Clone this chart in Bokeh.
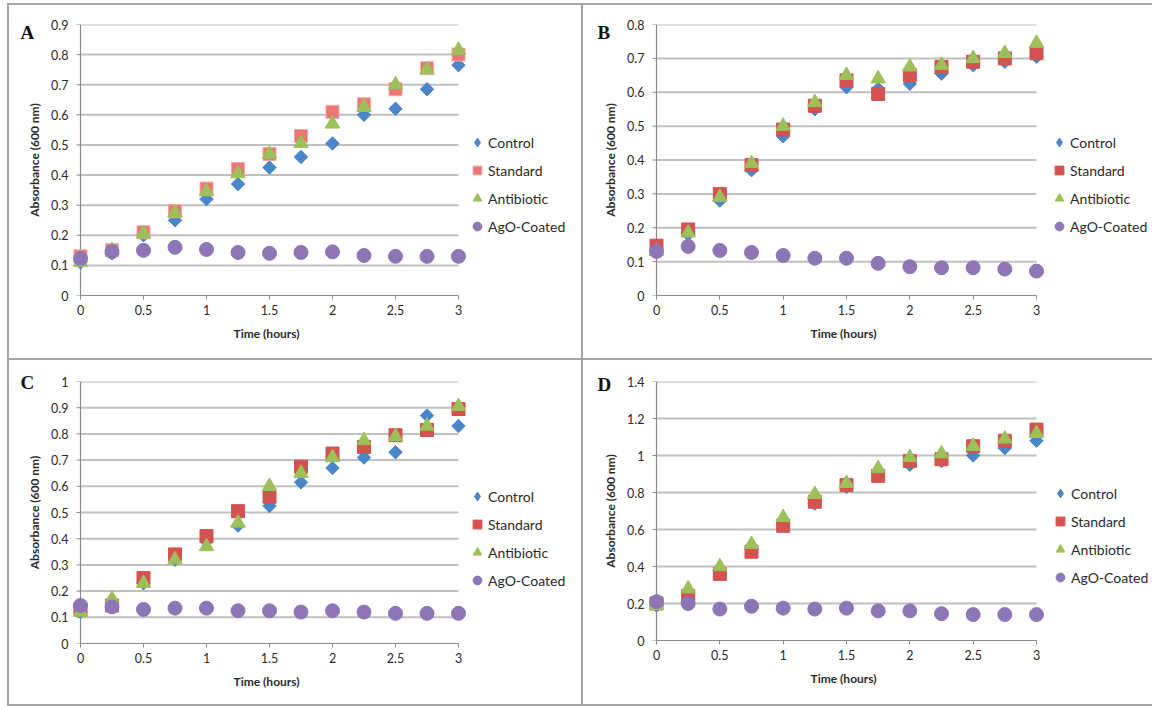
import math

from bokeh.plotting import figure
from bokeh.layouts import column, row
from bokeh.models import Range1d, FixedTicker, Legend, LegendItem, Title
from bokeh.embed import file_html
from bokeh.resources import INLINE

# ---- data -------------------------------------------------------------
time_h = [0, 0.25, 0.5, 0.75, 1.0, 1.25, 1.5, 1.75, 2.0, 2.25, 2.5, 2.75, 3.0]
series_names = ["Control", "Standard", "Antibiotic", "AgO-Coated"]

a_control = [0.11, 0.14, 0.20, 0.25, 0.32, 0.37, 0.425, 0.46, 0.505, 0.60, 0.62, 0.685, 0.765]
a_standard = [0.13, 0.15, 0.21, 0.28, 0.355, 0.42, 0.47, 0.53, 0.61, 0.635, 0.685, 0.755, 0.80]
a_antibiotic = [0.11, 0.15, 0.205, 0.275, 0.345, 0.405, 0.47, 0.505, 0.57, 0.625, 0.70, 0.75, 0.815]
a_ago = [0.123, 0.146, 0.15, 0.16, 0.153, 0.143, 0.14, 0.143, 0.145, 0.133, 0.13, 0.13, 0.13]

b_control = [0.13, 0.18, 0.28, 0.37, 0.47, 0.55, 0.615, 0.61, 0.625, 0.655, 0.68, 0.69, 0.705]
b_standard = [0.147, 0.195, 0.30, 0.385, 0.49, 0.56, 0.635, 0.595, 0.65, 0.675, 0.69, 0.70, 0.715]
b_antibiotic = [0.13, 0.185, 0.29, 0.39, 0.50, 0.57, 0.65, 0.64, 0.675, 0.68, 0.70, 0.715, 0.745]
b_ago = [0.13, 0.145, 0.133, 0.127, 0.118, 0.11, 0.11, 0.095, 0.085, 0.082, 0.082, 0.078, 0.072]

c_control = [0.12, 0.16, 0.23, 0.32, 0.39, 0.45, 0.525, 0.615, 0.67, 0.71, 0.73, 0.87, 0.83]
c_standard = [0.13, 0.145, 0.25, 0.34, 0.41, 0.505, 0.56, 0.675, 0.725, 0.75, 0.795, 0.815, 0.895]
c_antibiotic = [0.12, 0.17, 0.23, 0.32, 0.37, 0.46, 0.60, 0.65, 0.71, 0.775, 0.79, 0.83, 0.905]
c_ago = [0.145, 0.14, 0.13, 0.135, 0.135, 0.125, 0.125, 0.12, 0.125, 0.12, 0.115, 0.115, 0.115]

d_control = [0.19, 0.22, 0.36, 0.49, 0.63, 0.74, 0.83, 0.90, 0.95, 0.97, 1.00, 1.04, 1.08]
d_standard = [0.20, 0.24, 0.36, 0.48, 0.62, 0.75, 0.84, 0.89, 0.97, 0.98, 1.05, 1.08, 1.14]
d_antibiotic = [0.19, 0.28, 0.40, 0.52, 0.665, 0.79, 0.85, 0.93, 0.99, 1.01, 1.05, 1.09, 1.12]
d_ago = [0.21, 0.20, 0.17, 0.185, 0.175, 0.17, 0.175, 0.16, 0.16, 0.145, 0.14, 0.14, 0.14]

x_ticks = [0, 0.5, 1.0, 1.5, 2.0, 2.5, 3.0]
a_y_ticks = [0, 0.1, 0.2, 0.3, 0.4, 0.5, 0.6, 0.7, 0.8, 0.9]
b_y_ticks = [0, 0.1, 0.2, 0.3, 0.4, 0.5, 0.6, 0.7, 0.8]
c_y_ticks = [0, 0.1, 0.2, 0.3, 0.4, 0.5, 0.6, 0.7, 0.8, 0.9, 1.0]
d_y_ticks = [0, 0.2, 0.4, 0.6, 0.8, 1.0, 1.2, 1.4]

# ---- styling ----------------------------------------------------------
X_MAX = 3.0
PAD_PX = 9          # room left of t = 0 so edge markers are not clipped
AXIS = "#8a8a8a"
GRID = "#c0c0c0"
BORDER = "#a4a4a4"
TEXT = "#2a2a2a"
FONT = "Lato"

BLUE = "#4a86c8"
RED = "#d4524f"
GREEN = "#9dc05a"
PURPLE = "#8e76b6"


def frame_css(rects):
    return ", ".join(
        f"linear-gradient({BORDER},{BORDER}) {x}px {y}px / {w}px {h}px no-repeat"
        for (x, y, w, h) in rects
    )


def fmt(v):
    return f"{v:g}"


def build_panel(letter, values, y_max, y_ticks, frame_w, frame_h, axis_len_px,
                borders, legend_loc, letter_pos, xlabel_offset, css,
                std_fill, std_line):
    left, right, top, bottom = borders
    px_per_x = axis_len_px / X_MAX
    # the frame reaches past t = 3 so the legend can sit inside it
    x_lo = -PAD_PX / px_per_x
    x_hi = (frame_w - PAD_PX) / px_per_x

    p = figure(frame_width=frame_w, frame_height=frame_h, output_backend="svg",
               toolbar_location=None,
               x_range=Range1d(x_lo, x_hi), y_range=Range1d(0, y_max),
               min_border_left=left, min_border_right=right,
               min_border_top=top, min_border_bottom=bottom,
               border_fill_color=None, background_fill_color=None,
               outline_line_color=None, styles={"background": css})
    p.xgrid.visible = False
    p.ygrid.visible = False

    # panel letter, drawn as the plot title in the top-left corner
    p.title.text = letter
    p.title.align = "left"
    p.title.offset = letter_pos[0]
    p.title.standoff = letter_pos[1]
    p.title.text_font = "Liberation Serif"
    p.title.text_font_style = "bold"
    p.title.text_font_size = "19px"
    p.title.text_color = "#111111"

    # horizontal gridlines spanning the time axis only
    grid_y = [t for t in y_ticks if t > 0]
    p.segment(x0=[0] * len(grid_y), x1=[X_MAX] * len(grid_y),
              y0=grid_y, y1=grid_y, line_color=GRID, line_width=2)
    # vertical axis line at t = 0 with small outward ticks
    tick_len = 4 / px_per_x
    p.segment(x0=[-tick_len] * len(y_ticks), x1=[0] * len(y_ticks),
              y0=y_ticks, y1=y_ticks, line_color=AXIS, line_width=1)
    p.segment(x0=[0], x1=[0], y0=[0], y1=[y_max], line_color=AXIS,
              line_width=1.2)

    control, standard, antibiotic, ago = values
    # narrow diamond under each control point: supplies the legend swatch
    r1_key = p.scatter(time_h, control, marker="diamond", size=12,
                       fill_color=BLUE, line_color=BLUE)
    r1 = p.scatter(time_h, control, marker="square", angle=math.pi / 4,
                   size=9.5, fill_color=BLUE, line_color=BLUE)
    r2 = p.scatter(time_h, standard, marker="square", size=13,
                   fill_color=std_fill, line_color=std_line, line_width=1)
    r3 = p.scatter(time_h, antibiotic, marker="triangle", size=14.5,
                   fill_color=GREEN, line_color=GREEN)
    r4 = p.scatter(time_h, ago, marker="circle", size=14,
                   fill_color=PURPLE, line_color=PURPLE)

    xa = p.xaxis[0]
    xa.ticker = FixedTicker(ticks=x_ticks)
    xa.major_label_overrides = {t: fmt(t) for t in x_ticks}
    xa.bounds = (0, X_MAX)
    xa.axis_line_color = AXIS
    xa.axis_line_width = 1.2
    xa.major_tick_line_color = AXIS
    xa.major_tick_out = 4
    xa.major_tick_in = 0
    xa.minor_tick_line_color = None
    xa.major_label_text_font = FONT
    xa.major_label_text_font_size = "12.5px"
    xa.major_label_text_color = TEXT
    xa.major_label_standoff = 5

    # x-axis title centred under the 0-3 h span rather than the whole frame
    p.add_layout(Title(text="Time (hours)", align="left", offset=xlabel_offset,
                       vertical_align="top", standoff=17,
                       text_font=FONT, text_font_style="bold",
                       text_font_size="12px", text_color=TEXT), "below")

    ya = p.yaxis[0]
    ya.ticker = FixedTicker(ticks=y_ticks)
    ya.major_label_overrides = {t: fmt(t) for t in y_ticks}
    ya.axis_line_color = None
    ya.major_tick_line_color = None
    ya.major_tick_out = 0
    ya.major_tick_in = 0
    ya.minor_tick_line_color = None
    ya.major_label_text_font = FONT
    ya.major_label_text_font_size = "12.5px"
    ya.major_label_text_color = TEXT
    ya.major_label_standoff = 3
    ya.axis_label = "Absorbance (600 nm)"
    ya.axis_label_text_font = FONT
    ya.axis_label_text_font_style = "bold"
    ya.axis_label_text_font_size = "12px"
    ya.axis_label_text_color = TEXT
    ya.axis_label_standoff = 6

    # legend to the right of the data, inside the widened frame
    items = [LegendItem(label=n, renderers=[r])
             for n, r in zip(series_names, [r1_key, r2, r3, r4])]
    legend = Legend(items=items, location=legend_loc, orientation="vertical",
                    glyph_width=22, glyph_height=22, label_standoff=-3,
                    spacing=6, padding=0, margin=0,
                    border_line_color=None, background_fill_color=None,
                    background_fill_alpha=0,
                    label_text_font=FONT, label_text_font_size="14px",
                    label_text_color=TEXT)
    p.add_layout(legend, "center")
    return p


pA = build_panel("A", (a_control, a_standard, a_antibiotic, a_ago), 0.9, a_y_ticks,
                 507, 271, 378, (71, 5, 24, 65), (395, 58), (-51, -37), 162,
                 frame_css([(8, 3, 575, 2), (7, 3, 2, 357), (581, 3, 2, 357), (7, 358, 576, 2)]),
                 "#ea7773", "#f3a9a6")
pB = build_panel("B", (b_control, b_standard, b_antibiotic, b_ago), 0.8, b_y_ticks,
                 503, 271, 380, (64, 2, 24, 65), (401, 58), (-50, -37), 163,
                 frame_css([(0, 3, 569, 2), (0, 358, 569, 2)]),
                 RED, RED)
pC = build_panel("C", (c_control, c_standard, c_antibiotic, c_ago), 1.0, c_y_ticks,
                 507, 262, 378, (71, 5, 18, 66), (395, 52), (-51, -23), 162,
                 frame_css([(7, 0, 2, 346), (581, 0, 2, 346), (7, 344, 576, 2)]),
                 RED, RED)
pD = build_panel("D", (d_control, d_standard, d_antibiotic, d_ago), 1.4, d_y_ticks,
                 503, 259, 380, (64, 2, 21, 66), (402, 52), (-50, -26), 163,
                 frame_css([(0, 344, 569, 2)]),
                 RED, RED)

layout = column(row(pA, pB), row(pC, pD))

with open("out.html", "w") as f:
    f.write(file_html(layout, INLINE, title="Absorbance over time"))
